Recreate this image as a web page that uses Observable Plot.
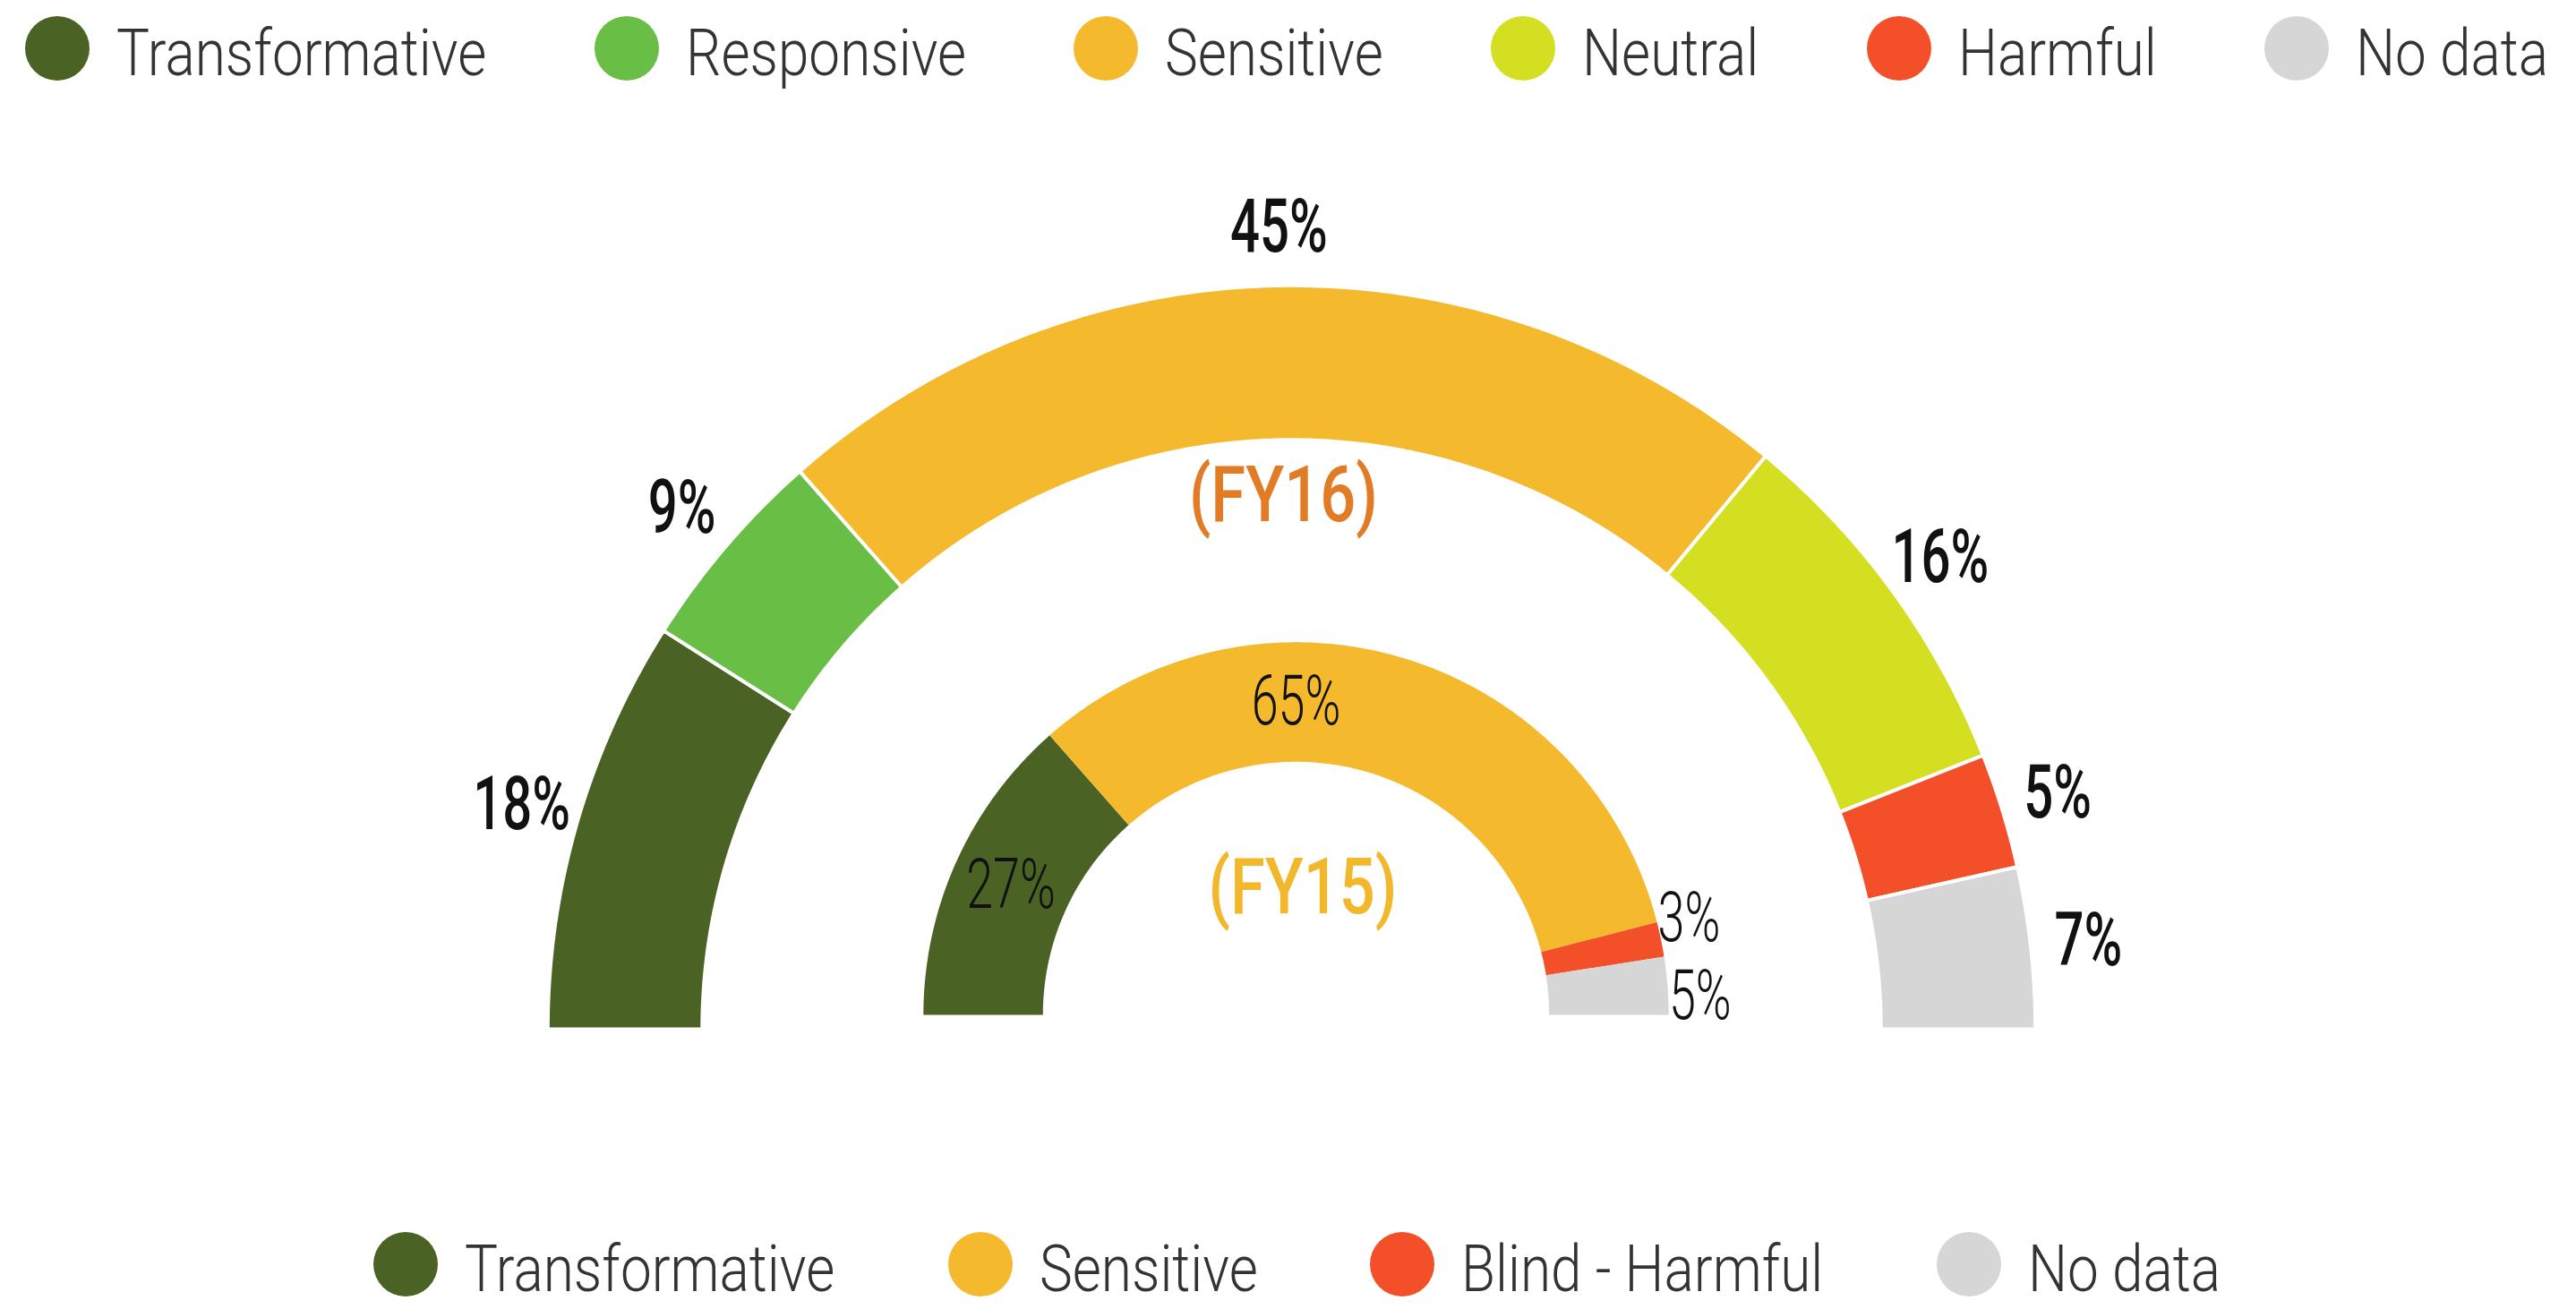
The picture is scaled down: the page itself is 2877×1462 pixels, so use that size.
<!DOCTYPE html>
<html>
<head>
<meta charset="utf-8">
<script src="https://cdn.jsdelivr.net/npm/d3@7"></script>
<script src="https://cdn.jsdelivr.net/npm/@observablehq/plot@0.6"></script>
<style>
html, body { margin: 0; padding: 0; background: #fff; }
body { width: 2877px; height: 1462px; overflow: hidden; font-family: Roboto, sans-serif; }
.legend { display: flex; align-items: center; box-sizing: border-box; width: 2877px; }
#top { height: 108px; padding: 0 31px 0 28px; justify-content: space-between; }
#bottom { height: 100px; justify-content: center; gap: 126px; padding-left: 20px; }
.item { display: flex; align-items: center; }
.dot { width: 72px; height: 72px; border-radius: 50%; flex: none; }
.lab { font-size: 73px; font-weight: 300; color: #333; margin-left: 30px; white-space: nowrap; position: relative; top: 5px; overflow: visible; }
.lab span { display: inline-block; transform-origin: 0 50%; }
#chart { display: block; height: 1254px; }
</style>
</head>
<body>
<div id="top" class="legend"></div>
<div id="chart"></div>
<div id="bottom" class="legend"></div>
<script>
// ---------- data ----------
const categoriesFY16 = ["Transformative", "Responsive", "Sensitive", "Neutral", "Harmful", "No data"];
const valuesFY16 = [18, 9, 45, 16, 5, 7];
const categoriesFY15 = ["Transformative", "Sensitive", "Blind - Harmful", "No data"];
const valuesFY15 = [27, 65, 3, 5];
const colorDomain = ["Transformative", "Responsive", "Sensitive", "Neutral", "Harmful", "Blind - Harmful", "No data"];
const colorRange = ["#4a6224", "#69bf45", "#f4b92c", "#d4df22", "#f34f29", "#f34f29", "#d6d6d6"];
const ringTitles = ["(FY16)", "(FY15)"];

// ---------- layout ----------
const W = 2877, H = 1254;
const PX = 8.29;            // pixels per unit
const CX = 1442, CY = 1041; // pixel position of the outer ring centre
const MIN_LABEL_GAP = 88;   // px between neighbouring outside labels
const rings = [
  {title: ringTitles[0], cats: categoriesFY16, vals: valuesFY16, cx: 0, cy: 0, r0: 79.4, r1: 100.2, outR: 108, inside: () => false, titleX: -1.1, titleY: 71.8, titleColor: "#e27b25"},
  {title: ringTitles[1], cats: categoriesFY15, vals: valuesFY15, cx: 0.6, cy: 1.93, r0: 34.1, r1: 50.2, outR: 54.5, inside: v => v >= 10, titleX: 1.5, titleY: 19.06, titleColor: "#f2b72b"}
];

const colorOf = c => colorRange[colorDomain.indexOf(c)];
const ang = f => Math.PI * (1 - f);

function ringGeometry(ring, ri) {
  const total = d3.sum(ring.vals);
  const pts = [], labels = [];
  let acc = 0;
  ring.vals.forEach((v, i) => {
    const f0 = acc / total, f1 = (acc + v) / total;
    acc += v;
    const key = ri + "-" + i, cat = ring.cats[i];
    const n = Math.max(2, Math.ceil((f1 - f0) * 360));
    const poly = [];
    for (let k = 0; k <= n; k++) {
      const t = ang(f0 + (f1 - f0) * k / n);
      poly.push([ring.cx + ring.r1 * Math.cos(t), ring.cy + ring.r1 * Math.sin(t)]);
    }
    for (let k = n; k >= 0; k--) {
      const t = ang(f0 + (f1 - f0) * k / n);
      poly.push([ring.cx + ring.r0 * Math.cos(t), ring.cy + ring.r0 * Math.sin(t)]);
    }
    poly.push(poly[0]);
    poly.forEach(([x, y]) => pts.push({x, y, key, cat}));
    const inside = ring.inside(v);
    let fm = (f0 + f1) / 2;
    if (inside && f0 < 0.5 && f1 > 0.5) fm = 0.5;
    labels.push({f: fm, inside, text: v + "%"});
  });
  // spread outside labels that would collide
  const outs = labels.filter(d => !d.inside);
  const minF = MIN_LABEL_GAP / (ring.outR * PX) / Math.PI;
  for (let it = 0; it < 50; it++) {
    for (let k = 1; k < outs.length; k++) {
      const gap = outs[k].f - outs[k - 1].f;
      if (gap < minF) {
        const push = (minF - gap) / 2;
        outs[k - 1].f -= push; outs[k].f += push;
      }
    }
  }
  labels.forEach(d => {
    const r = d.inside ? (ring.r0 + ring.r1) / 2 : ring.outR;
    const t = ang(d.f);
    d.x = ring.cx + r * Math.cos(t);
    d.y = ring.cy + r * Math.sin(t);
  });
  return {pts, labels};
}

const g16 = ringGeometry(rings[0], 0);
const g15 = ringGeometry(rings[1], 1);

const chart = Plot.plot({
  width: W,
  height: H,
  margin: 0,
  x: {domain: [-CX / PX, (W - CX) / PX], axis: null},
  y: {domain: [-(H - CY) / PX, CY / PX], axis: null},
  color: {domain: colorDomain, range: colorRange},
  style: {fontFamily: "Roboto, sans-serif", background: "white", overflow: "visible"},
  marks: [
    Plot.line(g16.pts, {x: "x", y: "y", z: "key", fill: "cat", stroke: "white", strokeWidth: 4, curve: "linear", strokeLinejoin: "miter"}),
    Plot.line(g15.pts, {x: "x", y: "y", z: "key", fill: "cat", stroke: "none", curve: "linear"}),
    Plot.text(g16.labels, {x: "x", y: "y", text: "text", fontSize: 83, fontWeight: 500, fill: "#111"}),
    Plot.text(g15.labels, {x: "x", y: "y", text: "text", fontSize: 77, fontWeight: 300, fill: "#111"}),
    Plot.text([rings[0]], {x: "titleX", y: "titleY", text: "title", fontSize: 88, fontWeight: 500, fill: rings[0].titleColor}),
    Plot.text([rings[1]], {x: "titleX", y: "titleY", text: "title", fontSize: 88, fontWeight: 500, fill: rings[1].titleColor})
  ]
});

// condense text horizontally (the original uses a narrow typeface)
chart.querySelectorAll("text").forEach(t => {
  const s = t.textContent.startsWith("(") ? 0.8 : 0.7;
  const tr = t.getAttribute("transform") || "";
  t.setAttribute("transform", tr + ` scale(${s},1)`);
});
document.getElementById("chart").appendChild(chart);

// ---------- legends ----------
function buildLegend(el, cats) {
  cats.forEach(c => {
    const item = document.createElement("div"); item.className = "item";
    const dot = document.createElement("div"); dot.className = "dot"; dot.style.background = colorOf(c);
    const lab = document.createElement("div"); lab.className = "lab";
    const sp = document.createElement("span"); sp.textContent = c;
    lab.appendChild(sp); item.append(dot, lab); el.appendChild(item);
  });
}
buildLegend(document.getElementById("top"), categoriesFY16);
buildLegend(document.getElementById("bottom"), categoriesFY15);
const LS = 0.85;
function fitLegend() {
  document.querySelectorAll(".lab span").forEach(sp => {
    sp.style.transform = "none";
    const w = sp.getBoundingClientRect().width;
    sp.style.transform = `scaleX(${LS})`;
    sp.parentNode.style.width = (w * LS) + "px";
  });
}
fitLegend();
if (document.fonts) document.fonts.ready.then(fitLegend);
</script>
</body>
</html>
